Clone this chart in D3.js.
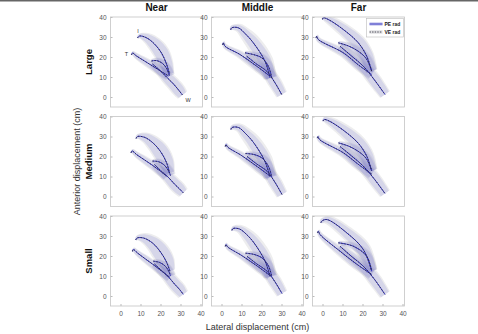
<!DOCTYPE html>
<html>
<head>
<meta charset="utf-8">
<script src="https://cdn.jsdelivr.net/npm/d3@7"></script>
<style>
  html, body { margin: 0; padding: 0; background: #fff; }
  svg { display: block; font-family: "Liberation Sans", Arial, sans-serif; }
</style>
</head>
<body>
<div id="main"></div>
<script>
const rowNames = ["Large", "Medium", "Small"];
const colNames = ["Near", "Middle", "Far"];
const xTicks = [0, 10, 20, 30, 40];
const yTicks = [0, 10, 20, 30, 40];
const legendLabels = ["PE rad", "VE rad"];
const pointLabels = [["I", 8.8, 33], ["T", 3, 21.5], ["W", 33.8, -1.5]];

// each path: [x, y, PE sd, VE sd]; order I, T, middle, W
const nearLarge = [
    [[8.5,29.5,0.5,0.6],[9.5,30.5,1,1.2],[13,29.6,2,2.6],[17,26.5,3,3.8],[20.5,22,3.5,4.2],[23,16.5,3,3.5],[24.5,11.5,2.2,2.5]],
    [[5.5,21,0.5,0.6],[6,22,0.8,1],[8,20.5,1.2,1.5],[12,18,1.5,2],[16,15.5,1.8,2.3],[20,13,2,2.5],[24,10.5,2,2.4]],
    [[15.5,18,0.8,1],[18,18.2,1.2,1.6],[21,16.8,1.8,2.2],[23.2,14,2.2,2.6],[24.5,10.5,2.4,2.8]],
    [[16,16.5,1.5,2],[19.5,13.5,2,2.6],[23,10,2.5,3.2],[26.5,6.5,2.8,3.5],[29.2,3.3,2.8,3.5],[31,1,2.2,3]]
];
const nearMedium = [
    [[7.8,29,0.5,0.6],[8.5,30,1,1.2],[12,29.6,2,2.6],[16,27,3,3.8],[20,22.5,3.8,4.5],[23,17,3.5,4],[24.5,11.8,2.4,2.8]],
    [[5.3,21.8,0.5,0.6],[5.8,22.8,0.8,1],[8,21,1.2,1.5],[12,18.3,1.5,2],[16,15.6,1.8,2.3],[19.5,13,2,2.5],[23,10.2,2,2.4]],
    [[16,17.7,0.8,1],[19,17.4,1.2,1.6],[22,15.6,1.8,2.2],[24,12.8,2.2,2.6],[25,10.5,2.4,2.8]],
    [[17,16,1.5,2],[20.5,12.6,2,2.6],[24,9.5,2.5,3.2],[27,6.2,2.8,3.5],[29.5,3.8,2.8,3.5],[31.4,1.8,2.2,3]]
];
const nearSmall = [
    [[7.6,28,0.5,0.6],[8.3,29,1,1.2],[11.5,29,2,2.6],[16,26.5,3.2,4],[20,22,4,4.8],[23,17,3.8,4.3],[24.7,12.4,2.4,2.8]],
    [[6,22.3,0.5,0.6],[6.4,23.3,0.8,1],[8.5,21.5,1.2,1.5],[12.5,18.5,1.5,2],[16.5,15.6,1.8,2.3],[20.5,12.5,2,2.5],[24.7,9.3,2,2.4]],
    [[16.4,17.4,0.8,1],[19.5,16.8,1.2,1.6],[22.5,14.8,1.8,2.2],[24.3,12,2.2,2.6],[25,10,2.4,2.8]],
    [[17,16,1.5,2],[20.5,12.8,2,2.6],[24,9.5,2.5,3.2],[27,6,2.8,3.5],[29.5,3.3,2.8,3.5],[31.4,0.8,2.2,3]]
];
const middleLarge = [
    [[4.6,33.6,0.5,0.6],[5.1,34.6,1,1.2],[8.4,34.6,1.5,2.2],[12,31.5,2.2,3.2],[15.9,27.1,2.8,4],[21.75,17.9,3.2,4.2],[24.25,9.6,2.6,3.2]],
    [[0.6,26,0.5,0.6],[0.9,27.1,0.8,1],[1.75,25.4,1,1.3],[9.25,21.25,1.5,2],[17.6,15.4,2,2.6],[24.25,10.4,2.2,2.8]],
    [[11.75,22.1,0.8,1],[16,21.2,1.2,1.6],[20.1,19.6,1.8,2.3],[23.4,15.4,2.2,2.7],[25.1,9.6,2.5,3]],
    [[12.6,20.4,1.5,2],[17.5,16.5,2,2.6],[22.6,12.9,2.5,3.2],[26.5,7.5,2.8,3.5],[30.1,1.25,2.4,3]]
];
const middleMedium = [
    [[4.7,33.5,0.5,0.6],[5.25,34.5,1,1.2],[8.5,34.5,1.5,2.2],[12,31.5,2.2,3.2],[16,27,2.8,4],[21.5,18,3.2,4.2],[24.3,9.8,2.6,3.2]],
    [[1.9,25,0.5,0.6],[2.25,26,0.8,1],[3,24.8,1,1.3],[10,20.5,1.5,2],[17.8,15,2,2.6],[24.3,10.2,2.2,2.8]],
    [[12,21.5,0.8,1],[16.2,21,1.2,1.6],[20.3,19.2,1.8,2.3],[23.5,15,2.2,2.7],[25.1,9.8,2.5,3]],
    [[12.8,20,1.5,2],[17.7,16.2,2,2.6],[22.8,12.6,2.5,3.2],[26.6,7.3,2.8,3.5],[30.25,1,2.4,3]]
];
const middleSmall = [
    [[5.2,32.8,0.5,0.6],[5.75,33.75,1,1.2],[9,33.5,1.5,2.2],[12.5,30.8,2.2,3.2],[16.3,26.5,2.8,4],[21.7,17.6,3.2,4.2],[24.3,9.8,2.6,3.2]],
    [[1.9,24.8,0.5,0.6],[2.25,25.75,0.8,1],[3,24.6,1,1.3],[10,20.3,1.5,2],[17.8,15,2,2.6],[24.3,10.2,2.2,2.8]],
    [[12,21.4,0.8,1],[16.2,20.8,1.2,1.6],[20.3,19,1.8,2.3],[23.5,15,2.2,2.7],[25.1,9.8,2.5,3]],
    [[12.8,19.8,1.5,2],[17.7,16,2,2.6],[22.8,12.4,2.5,3.2],[26.6,7.3,2.8,3.5],[30.25,1.25,2.4,3]]
];
const farLarge = [
    [[0,38.8,0.5,0.6],[0.4,39.6,1,1.2],[2.9,38.75,1.5,2.2],[10.4,33.75,2.5,3.4],[17.9,27.1,3.2,4],[22.1,20.4,3.2,3.8],[24.6,12.9,2.5,3]],
    [[-3.2,29.6,0.5,0.6],[-2.9,30.4,0.8,1],[-2.1,28.75,1,1.3],[10.4,22.1,1.8,2.4],[18,16,2.2,2.8],[24.6,11.25,2.2,2.8]],
    [[7.9,27.1,0.8,1],[13,25.5,1.5,2],[18,22.8,2,2.6],[22,19,2.2,2.8],[24.6,12.9,2.5,3]],
    [[8.75,25.4,1.5,2],[14.5,20.5,2,2.6],[20.4,15.4,2.5,3.2],[26,8.5,2.8,3.5],[31.25,1.25,2.4,3]]
];
const farMedium = [
    [[0.3,37.7,0.5,0.6],[0.75,38.5,1,1.2],[3.2,37.8,1.5,2.2],[10.6,33,2.5,3.4],[18,26.5,3.2,4],[22.2,20,3.2,3.8],[24.6,12.8,2.5,3]],
    [[-2.6,29.2,0.5,0.6],[-2.25,30,0.8,1],[-1.5,28.5,1,1.3],[10.5,21.8,1.8,2.4],[18,16,2.2,2.8],[24.6,11.2,2.2,2.8]],
    [[8,26.8,0.8,1],[13,25.2,1.5,2],[18,22.5,2,2.6],[22,18.8,2.2,2.8],[24.6,12.8,2.5,3]],
    [[8.8,25,1.5,2],[14.5,20.3,2,2.6],[20.4,15.2,2.5,3.2],[26,8.6,2.8,3.5],[31.25,1.5,2.4,3]]
];
const farSmall = [
    [[-0.8,36.6,0.5,0.6],[-0.4,37.4,1,1.2],[2.1,38.25,1.5,2.2],[12.1,31.6,2.5,3.4],[20.4,23.25,3.2,4],[24.6,12.4,2.5,3]],
    [[-2.5,31.6,0.5,0.6],[-2.1,32.4,0.8,1],[-1.25,30.75,1,1.3],[8.75,22.4,1.8,2.4],[17,16,2.2,2.8],[24.6,10.75,2.2,2.8]],
    [[7.9,26.6,0.8,1],[15.4,24.9,1.5,2],[22.1,19.9,2.2,2.8],[24.6,12.4,2.5,3]],
    [[8.75,24.9,1.5,2],[14.5,19.8,2,2.6],[20.4,14.9,2.5,3.2],[26,8.3,2.8,3.5],[31.25,0.75,2.4,3]]
];

const panels = [
    [nearLarge, middleLarge, farLarge],
    [nearMedium, middleMedium, farMedium],
    [nearSmall, middleSmall, farSmall]
];

const width = 478, height = 334;
const panelW = 92, panelH = 90;
const left0 = 110.5, top0 = 17;
const colStep = 101, rowStep = 99.5;

const peLine = "#3535c0";
const peBand = "rgba(125,125,215,0.2)";
const veBand = "rgba(165,165,172,0.2)";

const svg = d3.select("#main").append("svg")
    .attr("width", width)
    .attr("height", height);

svg.append("rect").attr("width", width).attr("height", height).attr("fill", "#fff");
svg.append("rect").attr("width", width).attr("height", 1.5).attr("fill", "#666");

// adds unit normals so the sd band can be offset across the path
const withNormals = pts => pts.map((p, i) => {
    const a = pts[Math.max(i - 1, 0)], b = pts[Math.min(i + 1, pts.length - 1)];
    const dx = b[0] - a[0], dy = b[1] - a[1];
    const len = Math.hypot(dx, dy) || 1;
    return {x: p[0], y: p[1], nx: -dy / len, ny: dx / len, pe: p[2], ve: p[3]};
});

panels.forEach((row, r) => {
    row.forEach((paths, c) => {
        const x0 = left0 + c * colStep, y0 = top0 + r * rowStep;
        const x = d3.scaleLinear().domain([-5, 41]).range([x0, x0 + panelW]);
        const y = d3.scaleLinear().domain([-5, 40]).range([y0 + panelH, y0]);

        const g = svg.append("g");
        const clipId = `clip-${r}-${c}`;
        g.append("clipPath").attr("id", clipId)
            .append("rect").attr("x", x0).attr("y", y0).attr("width", panelW).attr("height", panelH);

        g.append("rect")
            .attr("x", x0).attr("y", y0).attr("width", panelW).attr("height", panelH)
            .attr("fill", "#fff");

        const band = key => d3.area()
            .curve(d3.curveCatmullRom.alpha(0.5))
            .x0(d => x(d.x + d.nx * d[key])).y0(d => y(d.y + d.ny * d[key]))
            .x1(d => x(d.x - d.nx * d[key])).y1(d => y(d.y - d.ny * d[key]));

        const line = d3.line()
            .curve(d3.curveCatmullRom.alpha(0.5))
            .x(d => x(d.x)).y(d => y(d.y));

        const data = paths.map(withNormals);
        const plot = g.append("g").attr("clip-path", `url(#${clipId})`);

        plot.selectAll("path.ve-band").data(data).join("path")
            .attr("class", "ve-band")
            .attr("fill", veBand)
            .attr("d", band("ve"));
        plot.selectAll("path.pe-band").data(data).join("path")
            .attr("class", "pe-band")
            .attr("fill", peBand)
            .attr("d", band("pe"));
        plot.selectAll("path.pe-line").data(data).join("path")
            .attr("class", "pe-line")
            .attr("fill", "none")
            .attr("stroke", peLine)
            .attr("stroke-width", 1)
            .attr("d", line);
        plot.selectAll("path.ve-line").data(data).join("path")
            .attr("class", "ve-line")
            .attr("fill", "none")
            .attr("stroke", "#2a2a3a")
            .attr("stroke-width", 0.8)
            .attr("stroke-dasharray", "1.4,1.6")
            .attr("d", line);

        // axes
        const yAxis = g.append("g")
            .attr("transform", `translate(${x0},0)`)
            .call(d3.axisLeft(y).tickValues(yTicks).tickSize(-2).tickPadding(4));
        yAxis.select(".domain").remove();
        yAxis.selectAll("line").attr("stroke", "#bbb");
        yAxis.selectAll("text").attr("fill", "#555").attr("font-size", 6.5)
            .attr("font-family", "Liberation Sans, Arial, sans-serif");

        if (r === 2) {
            const xAxis = g.append("g")
                .attr("transform", `translate(0,${y0 + panelH})`)
                .call(d3.axisBottom(x).tickValues(xTicks).tickSize(-2).tickPadding(5));
            xAxis.select(".domain").remove();
            xAxis.selectAll("line").attr("stroke", "#bbb");
            xAxis.selectAll("text").attr("fill", "#555").attr("font-size", 6.5)
                .attr("font-family", "Liberation Sans, Arial, sans-serif");
        }

        g.append("rect")
            .attr("x", x0).attr("y", y0).attr("width", panelW).attr("height", panelH)
            .attr("fill", "none").attr("stroke", "#c4c4c4").attr("stroke-width", 0.8);

        if (r === 0 && c === 0) {
            g.selectAll("text.pt").data(pointLabels).join("text")
                .attr("class", "pt")
                .attr("x", d => x(d[1])).attr("y", d => y(d[2]))
                .attr("text-anchor", "middle").attr("dy", "0.35em")
                .attr("font-size", 5.5).attr("fill", "#333")
                .text(d => d[0]);
        }

        if (r === 0 && c === 2) {
            const lg = g.append("g").attr("transform", `translate(${x0 + 54},${y0 + 1.5})`);
            lg.append("rect").attr("width", 37).attr("height", 18.5)
                .attr("fill", "#fff").attr("stroke", "#bbb").attr("stroke-width", 0.6);
            lg.append("line").attr("x1", 3).attr("x2", 16).attr("y1", 5.5).attr("y2", 5.5)
                .attr("stroke", "rgba(125,125,215,0.4)").attr("stroke-width", 3.5);
            lg.append("line").attr("x1", 3).attr("x2", 16).attr("y1", 5.5).attr("y2", 5.5)
                .attr("stroke", peLine).attr("stroke-width", 1);
            lg.append("line").attr("x1", 3).attr("x2", 16).attr("y1", 13.5).attr("y2", 13.5)
                .attr("stroke", "rgba(165,165,172,0.35)").attr("stroke-width", 3.5);
            lg.append("line").attr("x1", 3).attr("x2", 16).attr("y1", 13.5).attr("y2", 13.5)
                .attr("stroke", "#2a2a3a").attr("stroke-width", 0.8).attr("stroke-dasharray", "1.4,1.2");
            lg.selectAll("text").data(legendLabels).join("text")
                .attr("x", 18).attr("y", (d, i) => 5.5 + i * 8).attr("dy", "0.35em")
                .attr("font-size", 5).attr("font-weight", "bold").attr("fill", "#222")
                .text(d => d);
        }
    });
});

// column titles
svg.selectAll("text.col").data(colNames).join("text")
    .attr("class", "col")
    .attr("x", (d, i) => left0 + i * colStep + panelW / 2)
    .attr("y", 11)
    .attr("text-anchor", "middle")
    .attr("font-size", 10).attr("font-weight", "bold").attr("fill", "#111")
    .text(d => d);

// row titles
svg.selectAll("text.row").data(rowNames).join("text")
    .attr("class", "row")
    .attr("transform", (d, i) => `translate(92,${top0 + i * rowStep + panelH / 2}) rotate(-90)`)
    .attr("text-anchor", "middle")
    .attr("font-size", 9.5).attr("font-weight", "bold").attr("fill", "#111")
    .text(d => d);

svg.append("text")
    .attr("transform", `translate(80,${top0 + rowStep + panelH / 2}) rotate(-90)`)
    .attr("text-anchor", "middle")
    .attr("font-size", 9).attr("fill", "#333")
    .text("Anterior displacement (cm)");

svg.append("text")
    .attr("x", left0 + colStep + panelW / 2)
    .attr("y", 330)
    .attr("text-anchor", "middle")
    .attr("font-size", 9).attr("fill", "#333")
    .text("Lateral displacement (cm)");
</script>
</body>
</html>
